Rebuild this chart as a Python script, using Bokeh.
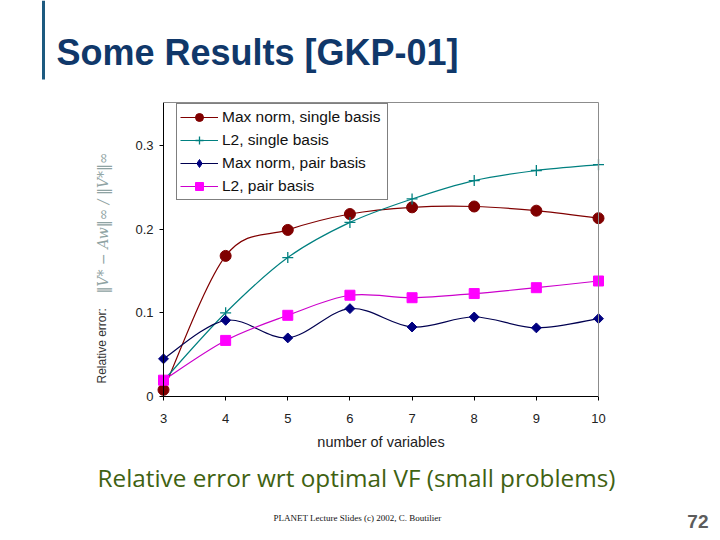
import numpy as np
from math import pi
from bokeh.plotting import figure
from bokeh.models import (Legend, LegendItem, Label, Arrow, FixedTicker,
                          Range1d, ColumnDataSource)
from bokeh.embed import file_html
from bokeh.resources import INLINE

# ---------------- data ----------------
n_vars = [3, 4, 5, 6, 7, 8, 9, 10]
max_single = [0.008, 0.168, 0.199, 0.218, 0.226, 0.227, 0.222, 0.213]
l2_single = [0.019, 0.100, 0.166, 0.208, 0.236, 0.258, 0.270, 0.277]
max_pair = [0.045, 0.091, 0.070, 0.105, 0.083, 0.095, 0.082, 0.093]
l2_pair = [0.0195, 0.067, 0.097, 0.121, 0.118, 0.123, 0.130, 0.138]
series_names = ["Max norm, single basis", "L2, single basis",
                "Max norm, pair basis", "L2, pair basis"]
x_ticks = [3, 4, 5, 6, 7, 8, 9, 10]
x_tick_labels = ["3", "4", "5", "6", "7", "8", "9", "10"]
y_ticks = [0, 0.1, 0.2, 0.3]
y_tick_labels = ["0", "0.1", "0.2", "0.3"]

# ---------------- canvas geometry (pixels -> data) ----------------
W, H = 716, 536
XPX = (598 - 163) / 7.0       # pixels per variable
YPX = 837.0                   # pixels per unit of error
YTOP = (396 - 102) / YPX      # top of the plotting area


def xd(px):
    return 3 + (px - 163) / XPX


def yd(py):
    return (396 - py) / YPX


def smooth_segments(xs, ys, t=1.0 / 6.0):
    x = np.asarray(xs, float)
    y = np.asarray(ys, float)
    n = len(x)
    xp = np.concatenate([[x[0]], x, [x[-1]]])
    yp = np.concatenate([[y[0]], y, [y[-1]]])
    cx0 = x[:-1] + (xp[2:n + 1] - xp[0:n - 1]) * t
    cy0 = y[:-1] + (yp[2:n + 1] - yp[0:n - 1]) * t
    cx1 = x[1:] - (xp[3:n + 2] - xp[1:n]) * t
    cy1 = y[1:] - (yp[3:n + 2] - yp[1:n]) * t
    return dict(x0=x[:-1], y0=y[:-1], x1=x[1:], y1=y[1:],
                cx0=cx0, cy0=cy0, cx1=cx1, cy1=cy1)


p = figure(width=W, height=H, output_backend="svg", toolbar_location=None,
           x_range=Range1d(xd(0), xd(W)), y_range=Range1d(yd(H), yd(0)),
           min_border=0, min_border_left=0, min_border_right=0,
           min_border_top=0, min_border_bottom=0)
# range used only for the legend swatch renderer (maps outside the canvas)
p.extra_x_ranges = {"key": Range1d(-100, -99)}
p.outline_line_color = None
p.xgrid.visible = False
p.ygrid.visible = False
p.background_fill_color = "white"
p.border_fill_color = "white"

# axes, drawn at fixed positions inside the canvas
for ax in (p.xaxis[0], p.yaxis[0]):
    ax.axis_line_color = "black"
    ax.axis_line_width = 1
    ax.major_tick_line_color = "black"
    ax.major_tick_out = 4
    ax.major_tick_in = 0
    ax.minor_tick_line_color = None
    ax.major_label_text_font = "Liberation Sans"
    ax.major_label_text_font_size = "13px"
    ax.major_label_text_color = "#222222"

p.xaxis.ticker = FixedTicker(ticks=x_ticks)
p.xaxis.major_label_overrides = dict(zip(x_ticks, x_tick_labels))
p.xaxis.fixed_location = 0
p.xaxis.bounds = (3, 10)
p.xaxis.major_label_standoff = 13
p.xaxis.axis_label = "number of variables"
p.xaxis.axis_label_text_font = "Liberation Sans"
p.xaxis.axis_label_text_font_size = "14.5px"
p.xaxis.axis_label_text_font_style = "normal"
p.xaxis.axis_label_text_color = "#222222"
p.xaxis.axis_label_standoff = 8

p.yaxis.ticker = FixedTicker(ticks=y_ticks)
p.yaxis.major_label_overrides = dict(zip(y_ticks, y_tick_labels))
p.yaxis.fixed_location = 3
p.yaxis.bounds = (0, YTOP)
p.yaxis.major_label_standoff = 6

# top and right border of the plot area
p.add_layout(Arrow(end=None, x_start=10, y_start=0, x_end=10, y_end=YTOP,
                   line_color="#8c8c8c", line_width=1))
p.add_layout(Arrow(end=None, x_start=3, y_start=YTOP, x_end=10, y_end=YTOP,
                   line_color="#8c8c8c", line_width=1))

# ---------------- series ----------------
# (values, line colour, marker, size, fill, marker line colour, angle)
styles = [
    (max_single, "#800000", "circle", 11, "#800000", "#800000", 0),
    (l2_single, "#008080", "cross", 11, None, "#008080", 0),
    (max_pair, "#000050", "square", 7, "#000080", "#000080", pi / 4),
    (l2_pair, "#cc00cc", "square", 10, "#ff00ff", "#ff00ff", 0),
]
items = []
for name, (vals, lcol, mk, sz, fcol, mlcol, ang) in zip(series_names, styles):
    seg = ColumnDataSource(smooth_segments(n_vars, vals))
    r_line = p.bezier(x0="x0", y0="y0", x1="x1", y1="y1", cx0="cx0", cy0="cy0",
                      cx1="cx1", cy1="cy1", source=seg, line_color=lcol, line_width=1.2)
    r_pts = p.scatter(n_vars, vals, marker=mk, size=sz, angle=ang, fill_color=fcol,
                      line_color=mlcol, line_width=1.3 if mk == "cross" else 1)
    legend_rs = [r_line, r_pts]
    if ang:
        # legend swatch: same series on an off-canvas range, so the key shows a diamond
        r_key = p.scatter(n_vars, vals, x_range_name="key", marker="diamond", size=12,
                          fill_color=fcol, line_color=mlcol)
        legend_rs = [r_line, r_key]
    items.append(LegendItem(label=name, renderers=legend_rs))

legend = Legend(items=items, location=(176, H - 200), margin=0,
                padding=3, spacing=3, label_height=20, glyph_height=20, glyph_width=38,
                label_standoff=4, label_width=162,
                label_text_font="Liberation Sans", label_text_font_size="15.5px",
                label_text_color="#111111",
                border_line_color="black", border_line_width=1,
                background_fill_color="white", background_fill_alpha=1)
p.add_layout(legend)

# ---------------- y axis label (rotated) ----------------
p.add_layout(Label(x=xd(101), y=yd(383), text="Relative error:", angle=pi / 2,
                   text_align="left", text_baseline="middle",
                   text_font="Liberation Sans", text_font_size="12px",
                   text_color="#333333"))
p.add_layout(Label(x=xd(102), y=yd(293), text="\u2016V* \u2212 Aw\u2016\u221e / \u2016V*\u2016\u221e",
                   angle=pi / 2, text_align="left", text_baseline="middle",
                   text_font="DejaVu Serif", text_font_style="italic",
                   text_font_size="14px", text_color="#8fa3a3"))

# ---------------- slide decorations ----------------
p.add_layout(Arrow(end=None, x_start=xd(43), y_start=yd(0), x_end=xd(43), y_end=yd(79),
                   line_color="#1d5a80", line_width=3))
p.add_layout(Label(x=xd(56), y=yd(52), text="Some Results [GKP-01]",
                   text_align="left", text_baseline="alphabetic",
                   text_font="Liberation Sans", text_font_style="bold",
                   text_font_size="36px", text_color="#10386a"))
p.add_layout(Label(x=xd(97), y=yd(477), text="Relative error wrt optimal VF (small problems)",
                   text_align="left", text_baseline="middle",
                   text_font="Open Sans", text_font_size="24.3px", text_color="#3f6212"))
p.add_layout(Label(x=xd(273), y=yd(517), text="PLANET Lecture Slides (c) 2002, C. Boutilier",
                   text_align="left", text_baseline="middle",
                   text_font="Liberation Serif", text_font_size="9px", text_color="#111111"))
p.add_layout(Label(x=xd(708), y=yd(521), text="72",
                   text_align="right", text_baseline="middle",
                   text_font="Liberation Sans", text_font_style="bold",
                   text_font_size="19px", text_color="#5c5c5c"))

open("out.html", "w").write(file_html(p, INLINE))
